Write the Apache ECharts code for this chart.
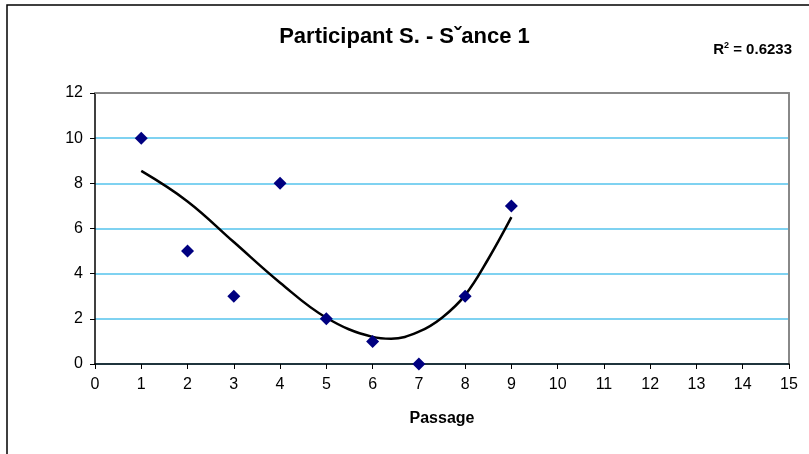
<!DOCTYPE html>
<html>
<head>
<meta charset="utf-8">
<script src="https://cdn.jsdelivr.net/npm/echarts@6/dist/echarts.min.js"></script>
<style>
  html, body { margin: 0; padding: 0; background: #fff; }
  #chart { width: 809px; height: 454px; }
</style>
</head>
<body>
<div id="chart"></div>
<script>
// scatter points (passage, value)
const passages = [1, 2, 3, 4, 5, 6, 7, 8, 9];
const values = [10, 5, 3, 8, 2, 1, 0, 3, 7];
// trend line
const trendX = [1, 2, 3, 4, 5, 6, 6.4, 7, 7.5, 8, 8.5, 9];
const trendY = [8.55, 7.2, 5.4, 3.6, 2.05, 1.2, 1.12, 1.43, 2.05, 3.05, 4.65, 6.5];
const rSquared = "0.6233";

const myChart = echarts.init(document.getElementById("chart"));

const font = "Arial, 'Liberation Sans', sans-serif";

const option = {
  backgroundColor: "#fff",
  animation: false,
  textStyle: { fontFamily: font },
  title: [
    {
      text: "Participant S. - S\u02c7ance 1",
      left: "center",
      top: 21,
      textStyle: { fontSize: 22, fontWeight: "bold", color: "#000", fontFamily: font },
    },
    {
      text: "R{sup|2} = " + rSquared,
      right: 12,
      top: 36,
      textStyle: {
        fontSize: 15,
        fontWeight: "bold",
        color: "#000",
        fontFamily: font,
        rich: {
          sup: { fontSize: 9, fontWeight: "bold", verticalAlign: "top", padding: [0, 0, 8, 0] },
        },
      },
    },
  ],
  graphic: [
    {
      type: "rect",
      shape: { x: 7, y: 5, width: 820, height: 470 },
      style: { fill: "none", stroke: "#000", lineWidth: 1.5 },
      silent: true,
    },
  ],
  grid: { left: 95, right: 20, top: 93, bottom: 90 },
  xAxis: [
    {
      type: "value",
      min: 0,
      max: 15,
      interval: 1,
      name: "Passage",
      nameLocation: "middle",
      nameGap: 47,
      nameTextStyle: { fontSize: 16, fontWeight: "bold", color: "#000" },
      axisLine: { lineStyle: { color: "#000", width: 1.5 } },
      axisTick: { length: 5, lineStyle: { color: "#000" } },
      axisLabel: { fontSize: 16, color: "#000", margin: 13 },
      splitLine: { show: false },
    },
    {
      type: "value",
      position: "top",
      min: 0,
      max: 15,
      axisLine: { show: true, onZero: false, lineStyle: { color: "#888", width: 2 } },
      axisTick: { show: false },
      axisLabel: { show: false },
      splitLine: { show: false },
    },
  ],
  yAxis: [
    {
      type: "value",
      min: 0,
      max: 12,
      interval: 2,
      axisLine: { show: true, lineStyle: { color: "#000", width: 1.5 } },
      axisTick: { show: true, length: 5, lineStyle: { color: "#000" } },
      axisLabel: { fontSize: 16, color: "#000", margin: 12 },
      splitLine: { lineStyle: { color: "#55c3ec", width: 1.5 } },
    },
    {
      type: "value",
      position: "right",
      min: 0,
      max: 12,
      axisLine: { show: true, onZero: false, lineStyle: { color: "#888", width: 2 } },
      axisTick: { show: false },
      axisLabel: { show: false },
      splitLine: { show: false },
    },
  ],
  series: [
    {
      type: "line",
      data: trendX.map((x, i) => [x, trendY[i]]),
      smooth: 0.4,
      showSymbol: false,
      lineStyle: { color: "#000", width: 2.5 },
      z: 2,
    },
    {
      type: "scatter",
      data: passages.map((x, i) => [x, values[i]]),
      symbol: "diamond",
      symbolSize: 13,
      itemStyle: { color: "#000080", opacity: 1 },
      z: 3,
    },
  ],
};

myChart.setOption(option);
</script>
</body>
</html>
